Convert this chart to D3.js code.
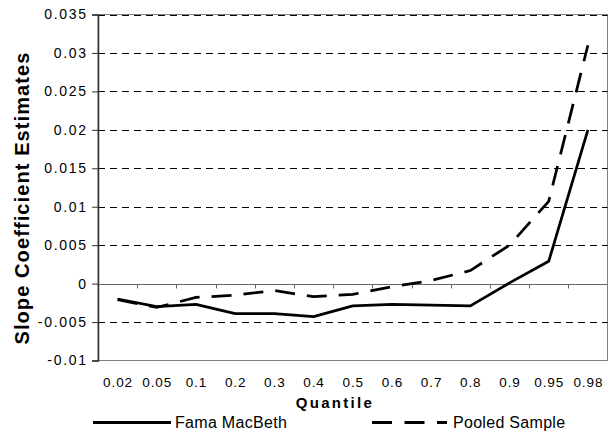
<!DOCTYPE html>
<html>
<head>
<meta charset="utf-8">
<script src="https://cdn.jsdelivr.net/npm/d3@7"></script>
<style>
  html, body { margin: 0; padding: 0; background: #fff; }
  svg { display: block; font-family: "Liberation Sans", Arial, sans-serif; }
</style>
</head>
<body>
<svg id="chart" width="613" height="433"></svg>
<script>
// Quantile regression slope estimates by quantile
const quantiles = ["0.02", "0.05", "0.1", "0.2", "0.3", "0.4", "0.5", "0.6", "0.7", "0.8", "0.9", "0.95", "0.98"];
const famaMacBeth = [-0.0020, -0.0030, -0.0027, -0.0039, -0.0039, -0.0043, -0.0029, -0.0027, -0.0028, -0.0029, 0.0001, 0.0029, 0.0200];
const pooledSample = [-0.0021, -0.0031, -0.0018, -0.0015, -0.0009, -0.0017, -0.0014, -0.0004, 0.0004, 0.0017, 0.0050, 0.0107, 0.0310];
const yTicks = [-0.01, -0.005, 0, 0.005, 0.01, 0.015, 0.02, 0.025, 0.03, 0.035];
const yTickLabels = ["-0.01", "-0.005", "0", "0.005", "0.01", "0.015", "0.02", "0.025", "0.03", "0.035"];
const seriesNames = ["Fama MacBeth", "Pooled Sample"];

const svg = d3.select("#chart");
const plotL = 98, plotR = 607.5, plotT = 14.5, plotB = 360.5;

const x = d3.scaleBand().domain(quantiles).range([plotL, plotR]).padding(0);
const y = d3.scaleLinear().domain([-0.01, 0.035]).range([plotB, plotT]);
const cx = q => x(q) + x.bandwidth() / 2;

// plot frame
svg.append("rect")
  .attr("x", plotL).attr("y", plotT)
  .attr("width", plotR - plotL).attr("height", plotB - plotT)
  .attr("fill", "none").attr("stroke", "#808080").attr("stroke-width", 1);

// dashed gridlines
svg.append("g")
  .selectAll("line")
  .data(yTicks.filter(v => v !== 0 && v !== -0.01))
  .join("line")
  .attr("x1", plotL).attr("x2", plotR)
  .attr("y1", d => Math.round(y(d)) + 0.5).attr("y2", d => Math.round(y(d)) + 0.5)
  .attr("stroke", "#000").attr("stroke-width", 1)
  .attr("stroke-dasharray", "7,5");

// zero line with category separators
const zy = Math.round(y(0)) + 0.5;
svg.append("line")
  .attr("x1", plotL).attr("x2", plotR).attr("y1", zy).attr("y2", zy)
  .attr("stroke", "#666").attr("stroke-width", 1);
svg.append("g")
  .selectAll("line")
  .data(quantiles.slice(1))
  .join("line")
  .attr("x1", d => Math.round(x(d)) + 0.5).attr("x2", d => Math.round(x(d)) + 0.5)
  .attr("y1", zy).attr("y2", zy + 4)
  .attr("stroke", "#666").attr("stroke-width", 1);

// y axis
const yAxis = svg.append("g")
  .attr("transform", `translate(${plotL},0)`)
  .call(d3.axisLeft(y).tickValues(yTicks).tickSize(6).tickPadding(6)
    .tickFormat((d, i) => yTickLabels[i]));
yAxis.select(".domain").attr("stroke", "#333").attr("stroke-width", 1.5);
yAxis.selectAll(".tick line").attr("stroke", "#333");
yAxis.selectAll(".tick text")
  .attr("font-family", "Liberation Sans, Arial, sans-serif")
  .attr("font-size", 14).attr("fill", "#000")
  .attr("letter-spacing", 1.7).attr("dx", 1.7);

// x axis labels below the frame
const xAxis = svg.append("g")
  .attr("transform", `translate(0,${plotB})`)
  .call(d3.axisBottom(x).tickSize(0).tickPadding(17));
xAxis.select(".domain").remove();
xAxis.selectAll(".tick text")
  .attr("font-family", "Liberation Sans, Arial, sans-serif")
  .attr("font-size", 13.5).attr("fill", "#000")
  .attr("letter-spacing", 0.9).attr("dx", 0.45);

// series lines
const line = data => d3.line().x((d, i) => cx(quantiles[i])).y(d => y(d))(data);
svg.append("path")
  .attr("d", line(famaMacBeth))
  .attr("fill", "none").attr("stroke", "#000").attr("stroke-width", 2.75)
  .attr("stroke-linejoin", "round");
svg.append("path")
  .attr("d", line(pooledSample))
  .attr("fill", "none").attr("stroke", "#000").attr("stroke-width", 2.75)
  .attr("stroke-dasharray", "20,12");

// axis titles
svg.append("text")
  .attr("x", 335).attr("y", 408)
  .attr("text-anchor", "middle")
  .attr("font-size", 15).attr("font-weight", "bold")
  .attr("letter-spacing", 2.3)
  .text("Quantile");

svg.append("text")
  .attr("transform", "translate(29,198) rotate(-90)")
  .attr("text-anchor", "middle")
  .attr("font-size", 20).attr("font-weight", "bold")
  .attr("letter-spacing", 1.1)
  .text("Slope Coefficient Estimates");

// legend
const legend = svg.append("g");
legend.append("line")
  .attr("x1", 93).attr("x2", 171).attr("y1", 422.5).attr("y2", 422.5)
  .attr("stroke", "#000").attr("stroke-width", 3);
legend.append("text")
  .attr("x", 175).attr("y", 428)
  .attr("font-size", 16).attr("letter-spacing", 0.3)
  .text(seriesNames[0]);
legend.append("line")
  .attr("x1", 372).attr("x2", 447).attr("y1", 422.5).attr("y2", 422.5)
  .attr("stroke", "#000").attr("stroke-width", 3)
  .attr("stroke-dasharray", "20,12.5");
legend.append("text")
  .attr("x", 453).attr("y", 428)
  .attr("font-size", 16).attr("letter-spacing", 0.3)
  .text(seriesNames[1]);
</script>
</body>
</html>
